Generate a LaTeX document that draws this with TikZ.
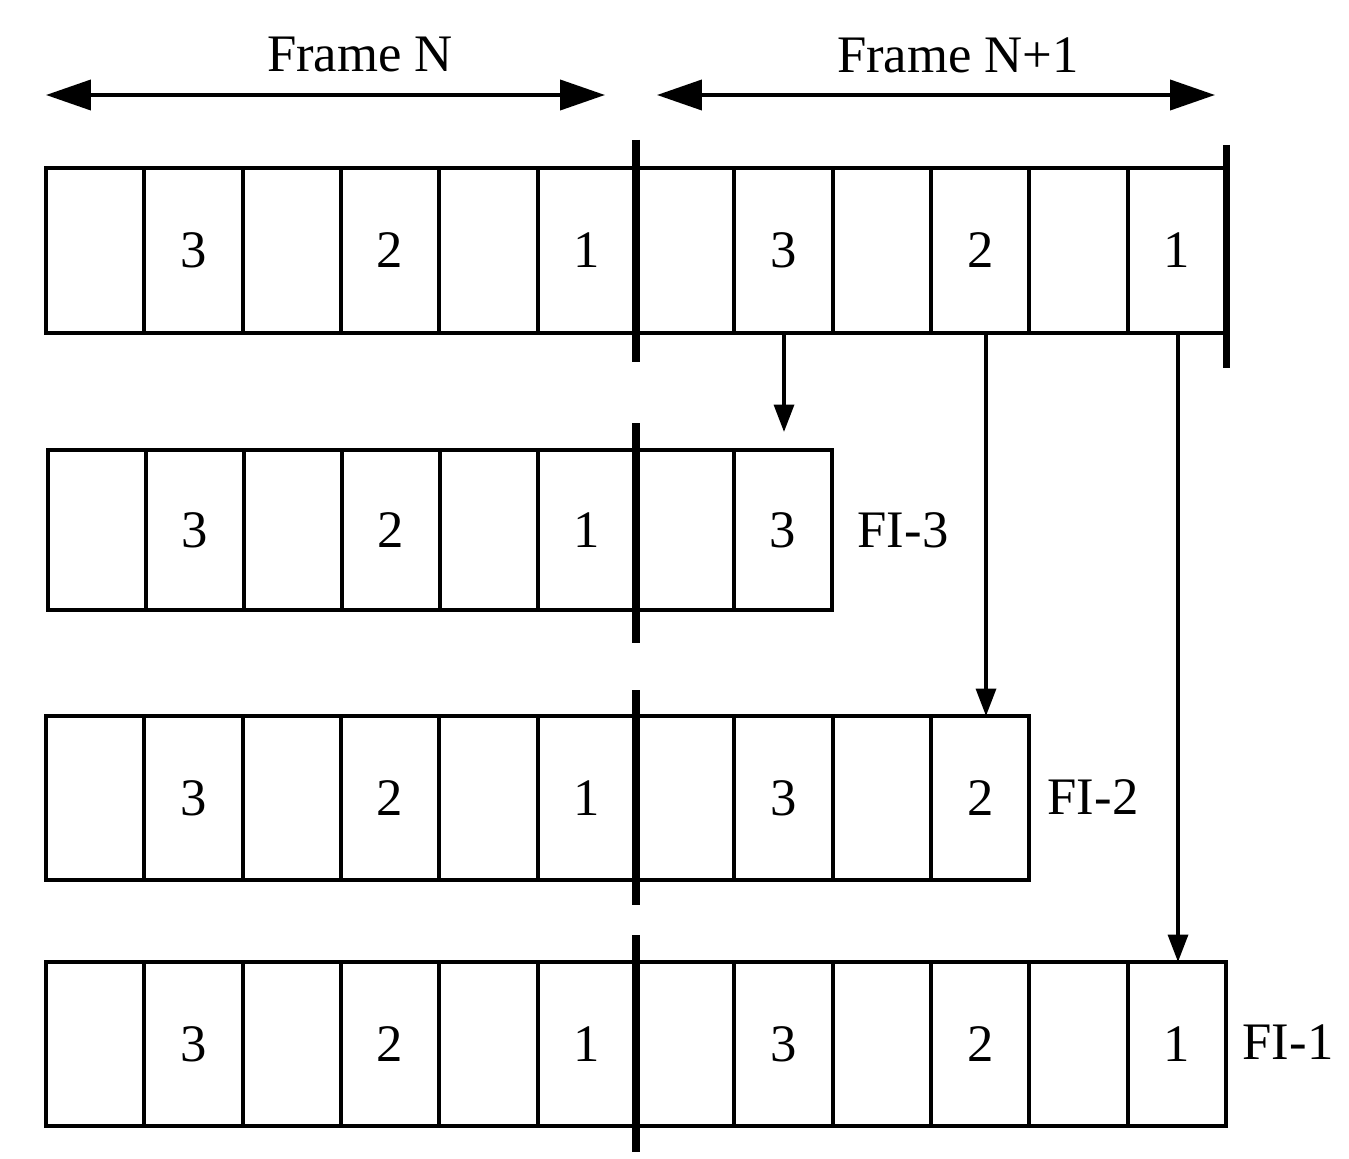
\documentclass[tikz,border=0pt]{standalone}
\usepackage{fontspec}
\setmainfont{Liberation Serif}
\usetikzlibrary{arrows.meta}
\begin{document}
\begin{tikzpicture}[x=0.02cm,y=-0.02cm,
  cell/.style={draw,line width=2.3pt},
  divider/.style={line width=4pt},
  lbl/.style={font=\fontsize{30}{34}\selectfont},
  dbl/.style={{Triangle[length=0.9cm,width=0.6cm]}-{Triangle[length=0.9cm,width=0.6cm]},line width=2.3pt},
  down/.style={-{Triangle[length=0.55cm,width=0.4cm]},line width=2pt}]
\useasboundingbox (0,0) rectangle (1349,1159);
% top arrows
\coordinate (a1) at (46,95); \coordinate (a2) at (605,95);
\coordinate (b1) at (657,95); \coordinate (b2) at (1215,95);
\draw[dbl] (a1) -- (a2);
\draw[dbl] (b1) -- (b2);
\node[lbl] (fn) at (360,55) {Frame N};
\node[lbl] (fn1) at (958,55) {Frame N+1};
\foreach \top/\bot/\n/\l in {168/333/12/46, 450/610/8/48, 716/880/10/46, 962/1126/12/46}{
  \pgfmathsetmacro{\w}{(636-\l)/6}
  \foreach \i in {1,...,\n}{
    \draw[cell] ({\l+(\i-1)*\w},\top) rectangle ({\l+\i*\w},\bot);
  }
}
\foreach \top/\bot/\n/\l in {168/333/12/46, 450/610/8/48, 716/880/10/46, 962/1126/12/46}{
  \pgfmathsetmacro{\w}{(636-\l)/6}
  \pgfmathsetmacro{\ym}{(\top+\bot)/2}
  \foreach \i/\t in {2/3,4/2,6/1,8/3,10/2,12/1}{
    \ifnum\i>\n\else
      \node[lbl] at ({\l+(\i-0.5)*\w},\ym) {\t};
    \fi
  }
}
\draw[divider] (636,140) -- (636,362);
\draw[divider] (1226,145) -- (1226,368);
\draw[divider] (636,423) -- (636,643);
\draw[divider] (636,690) -- (636,905);
\draw[divider] (636,935) -- (636,1152);
\node[lbl] (fi3) at (903,530) {FI-3};
\node[lbl] (fi2) at (1093,797) {FI-2};
\node[lbl] (fi1) at (1288,1042) {FI-1};
\coordinate (s3) at (784,333); \coordinate (t3) at (784,432);
\coordinate (s2) at (986,333); \coordinate (t2) at (986,716);
\coordinate (s1) at (1178,333); \coordinate (t1) at (1178,962);
\draw[down] (s3) -- (t3);
\draw[down] (s2) -- (t2);
\draw[down] (s1) -- (t1);
\end{tikzpicture}
\end{document}
